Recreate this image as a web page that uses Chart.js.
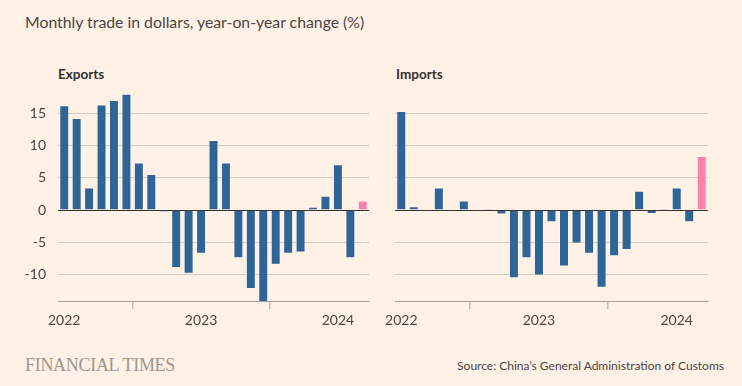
<!DOCTYPE html>
<html>
<head>
<meta charset="utf-8">
<script src="https://cdn.jsdelivr.net/npm/chart.js@4.4.1/dist/chart.umd.min.js"></script>
<style>
  html, body { margin: 0; padding: 0; }
  body { width: 742px; height: 386px; background: #fff1e5; position: relative; overflow: hidden; font-family: Lato, "Noto Sans", sans-serif; }
  .title { position: absolute; left: 25px; top: 12px; font-size: 15.8px; color: #4a4643; }
  .panel { position: absolute; top: 66px; font-size: 13.5px; font-weight: bold; color: #33302e; }
  .ft { position: absolute; left: 25px; top: 355px; font-family: "Liberation Serif", "DejaVu Serif", serif; font-size: 18px; color: #a0968d; letter-spacing: -0.3px; }
  .src { position: absolute; right: 18px; top: 358px; font-size: 12px; color: #4a4643; }
  .cv { position: absolute; top: 85px; height: 250px; }
</style>
</head>
<body>
<div class="title">Monthly trade in dollars, year-on-year change (%)</div>
<div class="panel" style="left:58px">Exports</div>
<div class="panel" style="left:396px">Imports</div>
<div class="cv" style="left:0px;width:380px"><canvas id="exp"></canvas></div>
<div class="cv" style="left:385px;width:335px"><canvas id="imp"></canvas></div>
<div class="ft">FINANCIAL TIMES</div>
<div class="src">Source: China’s General Administration of Customs</div>
<script>
const categories = ["Jan-Feb 2022","Mar 2022","Apr 2022","May 2022","Jun 2022","Jul 2022","Aug 2022","Sep 2022","Oct 2022","Nov 2022","Dec 2022",
  "Jan-Feb 2023","Mar 2023","Apr 2023","May 2023","Jun 2023","Jul 2023","Aug 2023","Sep 2023","Oct 2023","Nov 2023","Dec 2023",
  "Jan-Feb 2024","Mar 2024","Apr 2024"];
const exportsYoY = [16.3,14.3,3.5,16.4,17.1,18.1,7.4,5.6,-0.3,-9.0,-9.9,-6.8,10.9,7.4,-7.5,-12.3,-14.5,-8.5,-6.8,-6.6,0.5,2.2,7.1,-7.5,1.5];
const importsYoY = [15.4,0.6,0.1,3.5,0.0,1.5,0.0,0.2,-0.7,-10.6,-7.5,-10.2,-1.9,-8.8,-5.2,-6.8,-12.1,-7.2,-6.2,3.0,-0.6,0.2,3.5,-1.9,8.4];
const yTicks = [-10,-5,0,5,10,15];
const yMin = -14.15, yMax = 18.2;

const BLUE = '#2e6496', PINK = '#ff80ab';
const FONT = "Lato, 'Noto Sans', sans-serif";

const zeroLine = {
  id: 'zeroLine',
  afterDatasetsDraw(chart) {
    const y = Math.round(chart.scales.y.getPixelForValue(0)) + 0.5;
    const a = chart.chartArea;
    const c = chart.ctx;
    c.save();
    c.strokeStyle = '#3a3532';
    c.lineWidth = 1.2;
    c.beginPath(); c.moveTo(a.left, y); c.lineTo(a.right, y); c.stroke();
    c.restore();
  }
};

function makeChart(id, data, showY, yWidth, padRight) {
  const colors = data.map((v, i) => i === data.length - 1 ? PINK : BLUE);
  return new Chart(document.getElementById(id), {
    type: 'bar',
    data: { labels: categories, datasets: [{ data: data, backgroundColor: colors, borderColor: 'rgba(255,255,255,0.35)', borderWidth: 1, borderSkipped: 'start', categoryPercentage: 1, barPercentage: 0.8 }] },
    options: {
      responsive: true, maintainAspectRatio: false, animation: false, devicePixelRatio: 1,
      layout: { padding: { top: 8, right: padRight, left: 0, bottom: 0 } },
      plugins: { legend: { display: false }, tooltip: { enabled: false } },
      scales: {
        x: {
          grid: { drawOnChartArea: false, drawTicks: true, tickLength: 8, color: '#c8beb4', lineWidth: 1.5 },
          border: { display: true, color: '#a89e95', width: 1 },
          ticks: { autoSkip: false, maxRotation: 0, padding: 3, color: '#4a4643', font: { family: FONT, size: 14 },
            callback: function(v) { return this.getLabelForValue(v).split(' ').pop(); } },
          afterBuildTicks: s => { s.ticks = s.ticks.filter(t => categories[t.value].startsWith('Jan')); },
          afterFit: s => { s.height = 34; s.paddingLeft = 0; s.paddingRight = 0; }
        },
        y: {
          min: yMin, max: yMax,
          grid: { drawTicks: false, color: ctx => ctx.tick && ctx.tick.value === 0 ? 'rgba(0,0,0,0)' : '#d6cbc0', lineWidth: 1 },
          border: { display: false },
          ticks: { display: showY, padding: 12, color: '#4a4643', font: { family: FONT, size: 14 } },
          afterBuildTicks: s => { s.ticks = yTicks.map(v => ({ value: v })); },
          afterFit: s => { s.width = yWidth; s.paddingTop = 0; s.paddingBottom = 0; }
        }
      }
    },
    plugins: [zeroLine]
  });
}
makeChart('exp', exportsYoY, true, 58, 11);
makeChart('imp', importsYoY, false, 10, 12);
</script>
</body>
</html>
